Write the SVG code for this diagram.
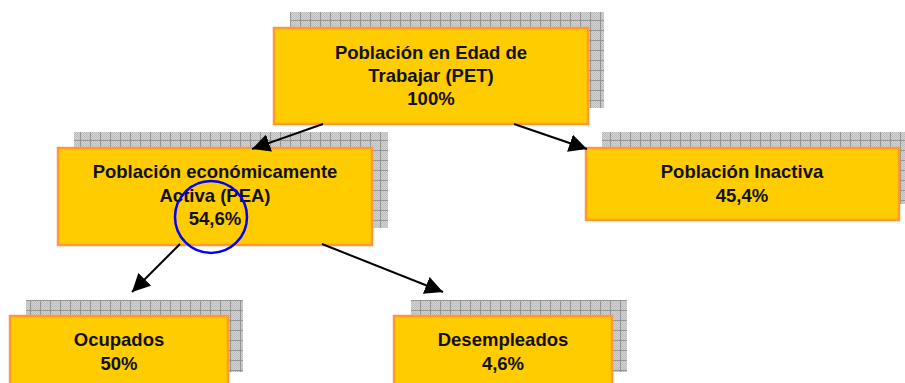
<svg xmlns="http://www.w3.org/2000/svg" width="905" height="383" viewBox="0 0 905 383">
<defs>
<pattern id="dots" width="2" height="2" patternUnits="userSpaceOnUse">
<rect width="2" height="2" fill="#d4d4d4"/>
<rect width="1" height="1" fill="#bcbcbc"/>
<rect x="1" y="1" width="1" height="1" fill="#bcbcbc"/>
</pattern>
<pattern id="grid" width="10" height="10" patternUnits="userSpaceOnUse">
<rect width="10" height="10" fill="url(#dots)"/>
<path d="M0.5 0V10M0 0.5H10" stroke="#959595" stroke-width="1"/>
</pattern>
<marker id="arr" markerUnits="userSpaceOnUse" markerWidth="20" markerHeight="18" viewBox="0 0 20 18" refX="18" refY="9" orient="auto">
<path d="M0 0L18 9L0 18Z" fill="#000"/>
</marker>
<style>
.shadow{fill:url(#grid);}
.box{fill:#FFCC00;stroke:#FF9933;stroke-width:2.5;}
.t{font-family:"Liberation Sans",Arial,sans-serif;font-weight:bold;font-size:18.5px;fill:#111;text-anchor:middle;}
.c{stroke:#000;stroke-width:2;fill:none;marker-end:url(#arr);}
</style>
</defs>
<g id="pet">
<rect class="shadow" x="290" y="12" width="314" height="96"/>
<rect class="box" x="274" y="28" width="314" height="96"/>
<text class="t" x="431" y="59">Población en Edad de</text>
<text class="t" x="431" y="82">Trabajar (PET)</text>
<text class="t" x="431" y="105">100%</text>
</g>
<g id="pea">
<rect class="shadow" x="74" y="132" width="314" height="96"/>
<rect class="box" x="58" y="148" width="314" height="97"/>
<text class="t" x="215" y="178">Población económicamente</text>
<text class="t" x="215" y="202">Activa (PEA)</text>
<text class="t" x="215" y="225">54,6%</text>
</g>
<g id="inactiva">
<rect class="shadow" x="602" y="132" width="314" height="72"/>
<rect class="box" x="586" y="148" width="313" height="72"/>
<text class="t" x="742" y="178">Población Inactiva</text>
<text class="t" x="742" y="202">45,4%</text>
</g>
<g id="ocupados">
<rect class="shadow" x="26" y="300" width="217" height="72"/>
<rect class="box" x="10" y="316" width="218" height="72"/>
<text class="t" x="119" y="346">Ocupados</text>
<text class="t" x="119" y="370">50%</text>
</g>
<g id="desempleados">
<rect class="shadow" x="411" y="300" width="216" height="72"/>
<rect class="box" x="394" y="316" width="218" height="72"/>
<text class="t" x="503" y="346">Desempleados</text>
<text class="t" x="503" y="370">4,6%</text>
</g>
<g id="connectors">
<line class="c" x1="323" y1="124" x2="252" y2="149"/>
<line class="c" x1="514" y1="124" x2="587" y2="149"/>
<line class="c" x1="180" y1="244" x2="132" y2="292"/>
<line class="c" x1="322" y1="244" x2="443" y2="292"/>
</g>
<g id="highlight">
<circle cx="211" cy="217" r="36" fill="none" stroke="#0000FF" stroke-width="2.5"/>
</g>
</svg>
